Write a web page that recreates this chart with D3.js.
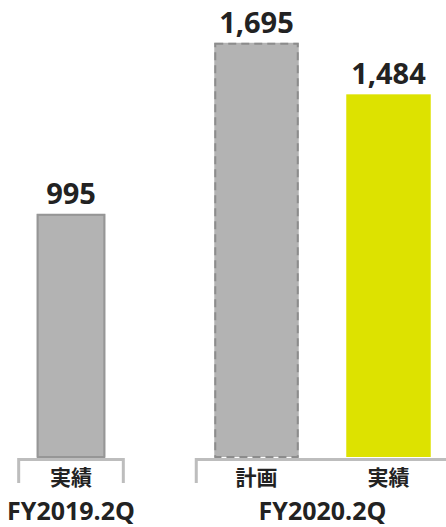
<!DOCTYPE html>
<html>
<head>
<meta charset="utf-8">
<script src="https://cdn.jsdelivr.net/npm/d3@7"></script>
<style>
  body { margin: 0; background: #fff; }
  svg { display: block; }
  text { font-family: "Open Sans", "Noto Sans CJK JP", sans-serif; font-weight: 700; fill: #222; }
</style>
</head>
<body>
<svg id="chart" width="446" height="527"></svg>
<script>
"use strict";

//Periods shown under the brackets
var periods = ["FY2019.2Q", "FY2020.2Q"];
//One entry per bar: which period it belongs to and its sub label
var barPeriod = ["FY2019.2Q", "FY2020.2Q", "FY2020.2Q"];
var barKind = ["実績", "計画", "実績"];
//Values
var barValue = [995, 1695, 1484];
//Style of each bar: "past", "plan" or "actual"
var barStyle = ["past", "plan", "actual"];

var svg = d3.select("#chart"),
    baseY = 457,
    lineY = 459.5;

//Vertical scale, bars start from the bracket line
var y = d3.scaleLinear()
    .domain([0, 1870])
    .range([baseY, 0]);

//Horizontal layout: one slot per bar, with a gap between periods
var slot = 132, gap = 53.5, left = 5;
var x = d3.scaleLinear().domain([0, 1]).range([left, left + slot]);

var bars = barValue.map(function(v, i) {
  var pIdx = periods.indexOf(barPeriod[i]);
  var unitsBefore = i + pIdx * gap / slot;
  var n = barPeriod.filter(function(p) { return p == barPeriod[i]; }).length;
  var frac = n == 1 ? 0.52 : 0.64;
  return {
    value: v, kind: barKind[i], style: barStyle[i], period: barPeriod[i],
    x0: x(unitsBefore + (1 - frac) / 2),
    x1: x(unitsBefore + (1 + frac) / 2)
  };
});

var fills = { past: "#b3b3b3", plan: "#b3b3b3", actual: "#dde200" };

//Bars
svg.append("g")
  .selectAll("rect")
  .data(bars)
  .enter().append("rect")
    .attr("x", function(d) { return d.x0; })
    .attr("y", function(d) { return y(d.value); })
    .attr("width", function(d) { return d.x1 - d.x0; })
    .attr("height", function(d) { return baseY - y(d.value); })
    .attr("fill", function(d) { return fills[d.style]; });

//Borders (solid for past, dashed for plan)
svg.append("g")
  .selectAll("rect")
  .data(bars.filter(function(d) { return d.style != "actual"; }))
  .enter().append("rect")
    .attr("x", function(d) { return d.x0 + 1; })
    .attr("y", function(d) { return y(d.value) + 1; })
    .attr("width", function(d) { return d.x1 - d.x0 - 2; })
    .attr("height", function(d) { return baseY - y(d.value) - 1; })
    .attr("fill", "none")
    .attr("stroke", function(d) { return d.style == "plan" ? "#8c8c8c" : "#969696"; })
    .attr("stroke-width", 2)
    .attr("stroke-dasharray", function(d) { return d.style == "plan" ? "8,5" : null; });

//Value labels
svg.append("g")
  .selectAll("text")
  .data(bars)
  .enter().append("text")
    .attr("x", function(d) { return (d.x0 + d.x1) / 2; })
    .attr("y", function(d) { return y(d.value) - 10; })
    .attr("text-anchor", "middle")
    .attr("font-size", "29px")
    .text(function(d) { return d3.format(",")(d.value); });

//Brackets under each period
var pad = 18;
var brackets = periods.map(function(p) {
  var bs = bars.filter(function(d) { return d.period == p; });
  return {
    period: p,
    x0: d3.min(bs, function(d) { return d.x0; }) - pad,
    x1: d3.max(bs, function(d) { return d.x1; }) + pad
  };
});

svg.append("g")
  .selectAll("path")
  .data(brackets)
  .enter().append("path")
    .attr("d", function(d) {
      return "M" + d.x0 + "," + 483 + "V" + lineY + "H" + d.x1 + "V" + 483;
    })
    .attr("fill", "none")
    .attr("stroke", "#bdbdbd")
    .attr("stroke-width", 3);

//Sub labels
svg.append("g")
  .selectAll("text")
  .data(bars)
  .enter().append("text")
    .attr("x", function(d) { return (d.x0 + d.x1) / 2; })
    .attr("y", 485)
    .attr("text-anchor", "middle")
    .attr("font-size", "21px")
    .style("font-family", "'Noto Sans CJK JP', sans-serif")
    .text(function(d) { return d.kind; });

//Period labels
svg.append("g")
  .selectAll("text")
  .data(brackets)
  .enter().append("text")
    .attr("x", function(d) { return (d.x0 + d.x1) / 2; })
    .attr("y", 520)
    .attr("text-anchor", "middle")
    .attr("font-size", "25px")
    .text(function(d) { return d.period; });
</script>
</body>
</html>
